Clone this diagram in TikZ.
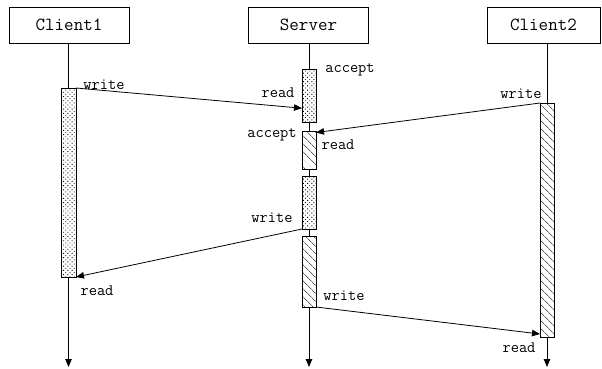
\documentclass[tikz,border=0pt]{standalone}
\usetikzlibrary{arrows.meta,patterns.meta,calc}

\tikzset{
  actor/.style={draw, line width=0.8pt, rectangle, inner sep=0pt, outer sep=0pt,
    font=\ttfamily\fontsize{18.5}{20}\selectfont},
  life/.style={line width=0.8pt, -{Triangle[length=8pt,width=6.5pt]}},
  msg/.style={line width=0.8pt, -{Triangle[length=8pt,width=6.5pt]}},
  barbase/.style={draw, line width=0.8pt, rectangle, inner sep=0pt, outer sep=0pt,
    minimum width=14pt, preaction={fill=white}},
  dotbar/.style={barbase, pattern={Dots[radius=0.65pt, distance=3pt, angle=45]}},
  hatchbar/.style={barbase, pattern={Lines[angle=-45, distance=5.4pt, line width=0.6pt]}},
  lbl/.style={anchor=base, inner sep=0pt, font=\ttfamily\fontsize{16}{18}\selectfont}
}

\begin{document}
\begin{tikzpicture}[x=1pt, y=-1pt]
  \useasboundingbox (0,0) rectangle (602,368);

  % participants
  \node[actor, minimum width=120pt, minimum height=36pt] (c1) at (69,25) {Client1};
  \node[actor, minimum width=120pt, minimum height=36pt] (sv) at (308.5,25) {Server};
  \node[actor, minimum width=113pt, minimum height=36pt] (c2) at (543.5,25) {Client2};

  % lifeline ends
  \coordinate (c1end) at (68.5,367);
  \coordinate (svend) at (309,367);
  \coordinate (c2end) at (547,367);

  \draw[life] (c1.south -| c1end) -- (c1end);
  \draw[life] (sv.south -| svend) -- (svend);
  \draw[life] (c2.south -| c2end) -- (c2end);

  % activation bars
  \node[dotbar, minimum width=15pt, minimum height=189pt] (c1b) at (68.5,182.5) {};
  \node[dotbar, minimum height=53pt] (sb1) at (309,95.5) {};
  \node[hatchbar, minimum height=38pt] (sb2) at (309,150) {};
  \node[dotbar, minimum height=53pt] (sb3) at (309,202.5) {};
  \node[hatchbar, minimum height=71pt] (sb4) at (309,271.5) {};
  \node[hatchbar, minimum height=234pt] (c2b) at (547,220) {};

  % messages
  \draw[msg] (c1b.north east) -- ($(sb1.north west)!0.74!(sb1.south west)$);
  \draw[msg] (c2b.north west) -- ([yshift=-1.5pt]sb2.north east);
  \draw[msg] (sb3.south west) -- (c1b.south east);
  \draw[msg] (sb4.south east) -- ([yshift=3pt]c2b.south west);

  % labels
  \node[lbl] (l1) at (104,89) {write};
  \node[lbl] (l2) at (350,72) {accept};
  \node[lbl] (l3) at (278,97) {read};
  \node[lbl] (l4) at (272,137) {accept};
  \node[lbl] (l5) at (338,149) {read};
  \node[lbl] (l6) at (521,98) {write};
  \node[lbl] (l7) at (272,222) {write};
  \node[lbl] (l8) at (344,300) {write};
  \node[lbl] (l9) at (97,295) {read};
  \node[lbl] (l10) at (519,352) {read};
\end{tikzpicture}
\end{document}
